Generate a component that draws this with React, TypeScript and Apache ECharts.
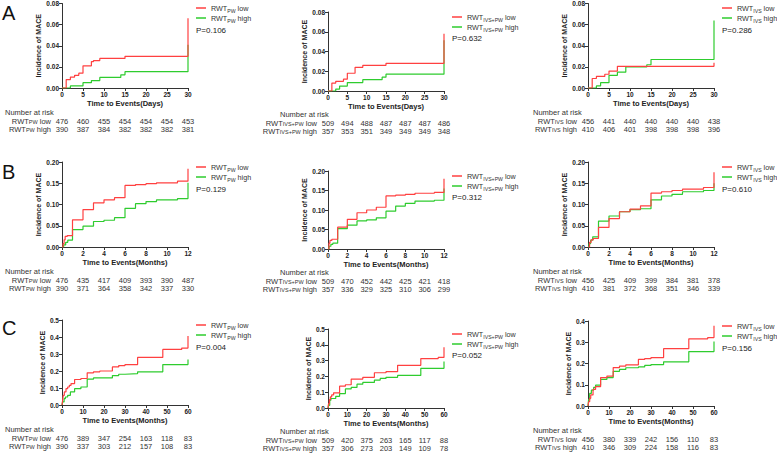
import React, { useEffect, useRef } from "react";
import * as echarts from "echarts";

// ---------- data ----------
const a1Low = [[0,0],[1,0.008],[2,0.0103],[3,0.012],[4,0.014],[5,0.021],[7,0.025],[7.5,0.026],[9,0.028],[15,0.030],[30,0.030],[30,0.066]];
const a1High = [[0,0],[2,0.002],[5,0.005],[7,0.007],[9,0.010],[14,0.0125],[15,0.0155],[30,0.0155],[30,0.041]];
const a2Low = [[0,0],[1,0.008],[2,0.0098],[4,0.012],[5,0.018],[7,0.024],[9,0.026],[15,0.028],[30,0.028],[30,0.058]];
const a2High = [[0,0],[2,0.002],[3,0.005],[5,0.0085],[9,0.0115],[14,0.014],[15,0.017],[30,0.017],[30,0.0515]];
const a3Low = [[0,0],[1,0.009],[2,0.011],[4,0.013],[5,0.016],[7,0.0205],[30,0.0205],[30,0.024]];
const a3High = [[0,0],[2,0.002],[3,0.005],[5,0.012],[7,0.015],[9,0.020],[14,0.022],[15,0.027],[30,0.027],[30,0.064]];

const b1Low = [[0,0],[0.1,0.008],[0.2,0.017],[0.3,0.025],[0.5,0.027],[1,0.064],[2,0.088],[3,0.104],[4,0.111],[5,0.116],[6,0.145],[7,0.147],[8,0.149],[9,0.151],[11,0.155],[12,0.155],[12,0.184]];
const b1High = [[0,0],[0.15,0.005],[0.35,0.011],[0.55,0.016],[1,0.041],[2,0.049],[3,0.060],[4,0.063],[5,0.069],[6,0.091],[7,0.102],[8,0.107],[9,0.111],[11,0.114],[12,0.114],[12,0.151]];
const b2Low = [[0,0],[0.1,0.015],[0.2,0.022],[0.4,0.025],[1,0.056],[2,0.076],[3,0.093],[4,0.100],[5,0.107],[6,0.136],[7,0.138],[8,0.140],[9,0.143],[11,0.145],[12,0.145],[12,0.180]];
const b2High = [[0,0],[0.1,0.007],[0.3,0.012],[0.5,0.015],[1,0.052],[2,0.061],[3,0.072],[4,0.0745],[5,0.080],[6,0.097],[7,0.110],[8,0.117],[9,0.123],[11,0.125],[12,0.125],[12,0.155]];
const b3Low = [[0,0],[0.15,0.011],[0.3,0.017],[0.5,0.020],[1,0.046],[2,0.067],[3,0.083],[4,0.089],[5,0.097],[6,0.127],[7,0.130],[8,0.133],[9,0.136],[11,0.140],[12,0.140],[12,0.176]];
const b3High = [[0,0],[0.1,0.008],[0.25,0.016],[0.45,0.024],[1,0.061],[2,0.073],[3,0.083],[4,0.088],[5,0.090],[6,0.111],[7,0.120],[8,0.124],[9,0.130],[11,0.133],[12,0.133],[12,0.150]];

const c1Low = [[0,0],[0.3,0.028],[0.6,0.057],[1.1,0.077],[1.9,0.096],[2.7,0.106],[3.5,0.116],[4.3,0.126],[6,0.150],[9,0.156],[12,0.189],[15,0.195],[18,0.200],[24,0.224],[27,0.232],[30,0.238],[36,0.280],[48,0.327],[57,0.335],[60,0.335],[60,0.406]];
const c1High = [[0,0],[0.3,0.018],[1,0.037],[1.6,0.047],[2.7,0.057],[4,0.077],[6,0.096],[9,0.106],[12,0.152],[15,0.159],[24,0.173],[27,0.181],[30,0.185],[36,0.195],[48,0.238],[60,0.238],[60,0.268]];
const c2Low = [[0,0],[0.3,0.028],[0.7,0.053],[1.2,0.070],[1.9,0.083],[2.9,0.096],[6,0.138],[9,0.147],[12,0.183],[18,0.194],[24,0.223],[30,0.230],[36,0.270],[48,0.313],[57,0.320],[60,0.320],[60,0.385]];
const c2High = [[0,0],[0.3,0.017],[0.9,0.049],[1.5,0.060],[4,0.074],[6,0.091],[9,0.121],[12,0.130],[15,0.151],[18,0.162],[24,0.177],[27,0.187],[30,0.194],[36,0.206],[48,0.251],[60,0.251],[60,0.294]];
const c3Low = [[0,0],[0.3,0.020],[0.8,0.036],[1.3,0.052],[2.4,0.078],[3.6,0.091],[6,0.134],[9,0.141],[12,0.181],[15,0.188],[18,0.194],[24,0.219],[27,0.223],[30,0.228],[36,0.270],[48,0.316],[57,0.322],[60,0.322],[60,0.378]];
const c3High = [[0,0],[0.3,0.031],[0.8,0.059],[1.6,0.075],[2.7,0.088],[3.6,0.098],[6,0.125],[9,0.134],[12,0.163],[15,0.172],[18,0.180],[24,0.184],[27,0.191],[30,0.195],[36,0.208],[48,0.256],[60,0.256],[60,0.303]];

// number at risk
const a1RiskLow = [476, 460, 455, 454, 454, 454, 453];
const a1RiskHigh = [390, 387, 384, 382, 382, 382, 381];
const a2RiskLow = [509, 494, 488, 487, 487, 487, 486];
const a2RiskHigh = [357, 353, 351, 349, 349, 349, 348];
const a3RiskLow = [456, 441, 440, 440, 440, 440, 438];
const a3RiskHigh = [410, 406, 401, 398, 398, 398, 396];
const b1RiskLow = [476, 435, 417, 409, 393, 390, 487];
const b1RiskHigh = [390, 371, 364, 358, 342, 337, 330];
const b2RiskLow = [509, 470, 452, 442, 425, 421, 418];
const b2RiskHigh = [357, 336, 329, 325, 310, 306, 299];
const b3RiskLow = [456, 425, 409, 399, 384, 381, 378];
const b3RiskHigh = [410, 381, 372, 368, 351, 346, 339];
const c1RiskLow = [476, 389, 347, 254, 163, 118, 83];
const c1RiskHigh = [390, 337, 303, 212, 157, 108, 83];
const c2RiskLow = [509, 420, 375, 263, 165, 117, 88];
const c2RiskHigh = [357, 306, 273, 203, 149, 109, 78];
const c3RiskLow = [456, 380, 339, 242, 156, 110, 83];
const c3RiskHigh = [410, 346, 309, 224, 158, 116, 83];

const pValues = ["P=0.106", "P=0.632", "P=0.286", "P=0.129", "P=0.312", "P=0.610", "P=0.004", "P=0.052", "P=0.156"];
const groupSubs = ["PW", "IVS+PW", "IVS"];
const xTitles = ["Time to Events(Days)", "Time to Events(Months)", "Time to Events(Months)"];
const xMaxes = [30, 12, 60];
const xIntervals = [5, 2, 10];
const yMaxes = [0.08, 0.08, 0.08, 0.2, 0.2, 0.2, 0.5, 0.5, 0.4];
const yIntervals = [0.02, 0.02, 0.02, 0.05, 0.05, 0.05, 0.1, 0.1, 0.1];
const yDecimals = [2, 2, 2, 2, 2, 2, 1, 1, 1];
const rowLetters = ["A", "B", "C"];

const lowData = [a1Low, a2Low, a3Low, b1Low, b2Low, b3Low, c1Low, c2Low, c3Low];
const highData = [a1High, a2High, a3High, b1High, b2High, b3High, c1High, c2High, c3High];
const riskLow = [a1RiskLow, a2RiskLow, a3RiskLow, b1RiskLow, b2RiskLow, b3RiskLow, c1RiskLow, c2RiskLow, c3RiskLow];
const riskHigh = [a1RiskHigh, a2RiskHigh, a3RiskHigh, b1RiskHigh, b2RiskHigh, b3RiskHigh, c1RiskHigh, c2RiskHigh, c3RiskHigh];

// ---------- layout ----------
const colLeft = [62, 328, 588];
const colWidth = [126, 116, 126];
const colRiskTitleDx = [57, 48, 55];
const panelTop = [3, 12, 3, 162, 171, 162, 320, 329, 321];
const panelHeight = [85, 79, 85, 85, 78, 85, 85, 79, 85];

const FONT = "'Liberation Sans', Arial, Helvetica, sans-serif";
const RED = "#ff4040";
const GREEN = "#2ecc2e";
const AXIS = "#333";

export default function App() {
  const ref = useRef<HTMLDivElement>(null);
  useEffect(() => {
    if (!ref.current) return;
    const chart = echarts.init(ref.current, null, { renderer: "svg" });

    const grid: any[] = [];
    const xAxis: any[] = [];
    const yAxis: any[] = [];
    const series: any[] = [];
    const legend: any[] = [];
    const graphic: any[] = [];
    const nameMap: Record<string, string> = {};

    const rich = {
      n: { fontSize: 7.2, fontFamily: FONT, color: "#333" },
      s: { fontSize: 5.2, fontFamily: FONT, color: "#333", verticalAlign: "bottom" },
    };

    for (let i = 0; i < 9; i++) {
      const col = i % 3;
      const row = Math.floor(i / 3);
      const left = colLeft[col];
      const width = colWidth[col];
      const top = panelTop[i];
      const height = panelHeight[i];
      const bottomY = top + height;
      const xMax = xMaxes[row];
      const xInt = xIntervals[row];
      const sub = groupSubs[col];
      const r1 = col === 1 ? 32 : 33;
      const r2 = col === 1 ? 40 : 41;

      grid.push({ left, top, width, height, containLabel: false });

      xAxis.push({
        type: "value", gridIndex: i, min: 0, max: xMax, interval: xInt,
        name: xTitles[row], nameLocation: "middle", nameGap: 11,
        nameTextStyle: { fontSize: 7.5, fontWeight: "bold", fontFamily: FONT, color: "#222" },
        axisLine: { show: true, onZero: false, lineStyle: { color: AXIS, width: 1 } },
        axisTick: { show: true, length: 3, lineStyle: { color: AXIS } },
        axisLabel: { fontSize: 6.5, fontWeight: "bold", fontFamily: FONT, color: "#222", margin: 3 },
        splitLine: { show: false },
      });
      const rl = riskLow[i];
      const rh = riskHigh[i];
      xAxis.push({
        type: "value", gridIndex: i, min: 0, max: xMax, interval: xInt, position: "bottom", offset: r1 - 4,
        axisLine: { show: false }, axisTick: { show: false }, splitLine: { show: false },
        axisLabel: { margin: 0, fontSize: 7.5, fontFamily: FONT, color: "#333",
          formatter: (v: number) => String(rl[Math.round(v / xInt)] ?? "") },
      });
      xAxis.push({
        type: "value", gridIndex: i, min: 0, max: xMax, interval: xInt, position: "bottom", offset: r2 - 4,
        axisLine: { show: false }, axisTick: { show: false }, splitLine: { show: false },
        axisLabel: { margin: 0, fontSize: 7.5, fontFamily: FONT, color: "#333",
          formatter: (v: number) => String(rh[Math.round(v / xInt)] ?? "") },
      });

      const dec = yDecimals[i];
      yAxis.push({
        type: "value", gridIndex: i, min: 0, max: yMaxes[i], interval: yIntervals[i],
        name: "Incidence of MACE", nameLocation: "middle", nameGap: 15,
        nameTextStyle: { fontSize: 7, fontWeight: "bold", fontFamily: FONT, color: "#222" },
        axisLine: { show: true, lineStyle: { color: AXIS, width: 1 } },
        axisTick: { show: true, length: 3, lineStyle: { color: AXIS } },
        axisLabel: { fontSize: 6.5, fontWeight: "bold", fontFamily: FONT, color: "#222", margin: 3,
          formatter: (v: number) => v.toFixed(dec) },
        splitLine: { show: false },
      });

      const nLow = `p${i}low`;
      const nHigh = `p${i}high`;
      nameMap[nLow] = `{n|RWT}{s|${sub}}{n| low}`;
      nameMap[nHigh] = `{n|RWT}{s|${sub}}{n| high}`;
      series.push({
        name: nLow, type: "line", step: "end", xAxisIndex: i * 3, yAxisIndex: i, data: lowData[i],
        showSymbol: false, symbol: "none", color: RED, lineStyle: { color: RED, width: 1.2 }, z: 3,
      });
      series.push({
        name: nHigh, type: "line", step: "end", xAxisIndex: i * 3, yAxisIndex: i, data: highData[i],
        showSymbol: false, symbol: "none", color: GREEN, lineStyle: { color: GREEN, width: 1.2 }, z: 2,
      });

      const legLeft = left + width + 8;
      legend.push({
        data: [nLow, nHigh], orient: "vertical", left: legLeft, top: top,
        itemWidth: 10, itemHeight: 1.5, icon: "rect", itemGap: 0, padding: 0,
        formatter: (name: string) => nameMap[name],
        textStyle: { fontSize: 7.2, fontFamily: FONT, color: "#333", lineHeight: 10, rich },
        selectedMode: false,
      });

      graphic.push({
        type: "text", x: legLeft, y: top + (col === 1 ? 26 : 27),
        style: { text: pValues[i], fontSize: 8, fontFamily: FONT, fill: "#222", verticalAlign: "middle" },
      });

      // number at risk header and row labels
      graphic.push({
        type: "text", x: left - colRiskTitleDx[col], y: bottomY + r1 - 9,
        style: { text: "Number at risk", fontSize: 7.5, fontFamily: FONT, fill: "#333", verticalAlign: "middle" },
      });
      const labelRich = {
        n: { fontSize: 7.5, fontFamily: FONT, fill: "#333", color: "#333" },
        s: { fontSize: 5.5, fontFamily: FONT, fill: "#333", color: "#333", verticalAlign: "bottom" },
      };
      graphic.push({
        type: "text", x: left - 11, y: bottomY + r1,
        style: { text: `{n|RWT}{s|${sub}}{n| low}`, rich: labelRich, fill: "#333", align: "right", verticalAlign: "middle" },
      });
      graphic.push({
        type: "text", x: left - 11, y: bottomY + r2,
        style: { text: `{n|RWT}{s|${sub}}{n| high}`, rich: labelRich, fill: "#333", align: "right", verticalAlign: "middle" },
      });
    }

    const letterY = [3, 162, 318];
    rowLetters.forEach((l, r) => {
      graphic.push({
        type: "text", x: 2, y: letterY[r],
        style: { text: l, fontSize: 20, fontFamily: FONT, fill: "#111" },
      });
    });

    chart.setOption({
      animation: false,
      backgroundColor: "#fff",
      grid, xAxis, yAxis, series, legend, graphic,
    });
    return () => chart.dispose();
  }, []);
  return <div ref={ref} style={{ position: "fixed", left: 0, top: 0, width: 777, height: 454, background: "#fff" }} />;
}
